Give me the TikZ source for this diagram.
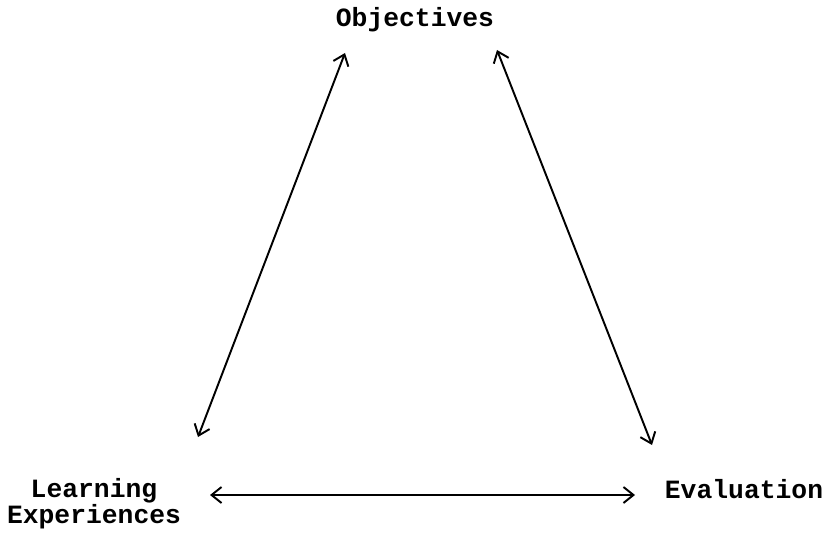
\documentclass[tikz,border=0pt]{standalone}
\usepackage{fontspec}
\setmonofont{Liberation Mono}
\usepackage{tikz}
\usetikzlibrary{arrows.meta, positioning}
\tikzstyle{term} = [font=\ttfamily\bfseries\fontsize{15}{14.7}\selectfont,
inner sep=0pt,
align=center]
\tikzstyle{arrow} = [line width=1.1pt,
{Straight Barb[length=2mm,width=3.2mm]}-{Straight Barb[length=2mm,width=3.2mm]}]

\begin{document}
\begin{tikzpicture}[x=0.02cm, y=-0.02cm]
            \useasboundingbox (0,0) rectangle (824,537);
            \node (obj) [term, anchor=base] at (415,27) {Objectives};
            \node (learn) [term, anchor=base] at (94,523) {Learning\\Experiences};
            \node (eval) [term, anchor=base] at (744,498) {Evaluation};

            % arrow ends
            \coordinate (objL) at (345,53);
            \coordinate (objR) at (497,50);
            \coordinate (learnT) at (198,437);
            \coordinate (learnR) at (210,495);
            \coordinate (evalT) at (652,445);
            \coordinate (evalL) at (635,495);

            \draw [arrow] (objL) -- (learnT);
            \draw [arrow] (objR) -- (evalT);
            \draw [arrow] (learnR) -- (evalL);
        \end{tikzpicture}
\end{document}
